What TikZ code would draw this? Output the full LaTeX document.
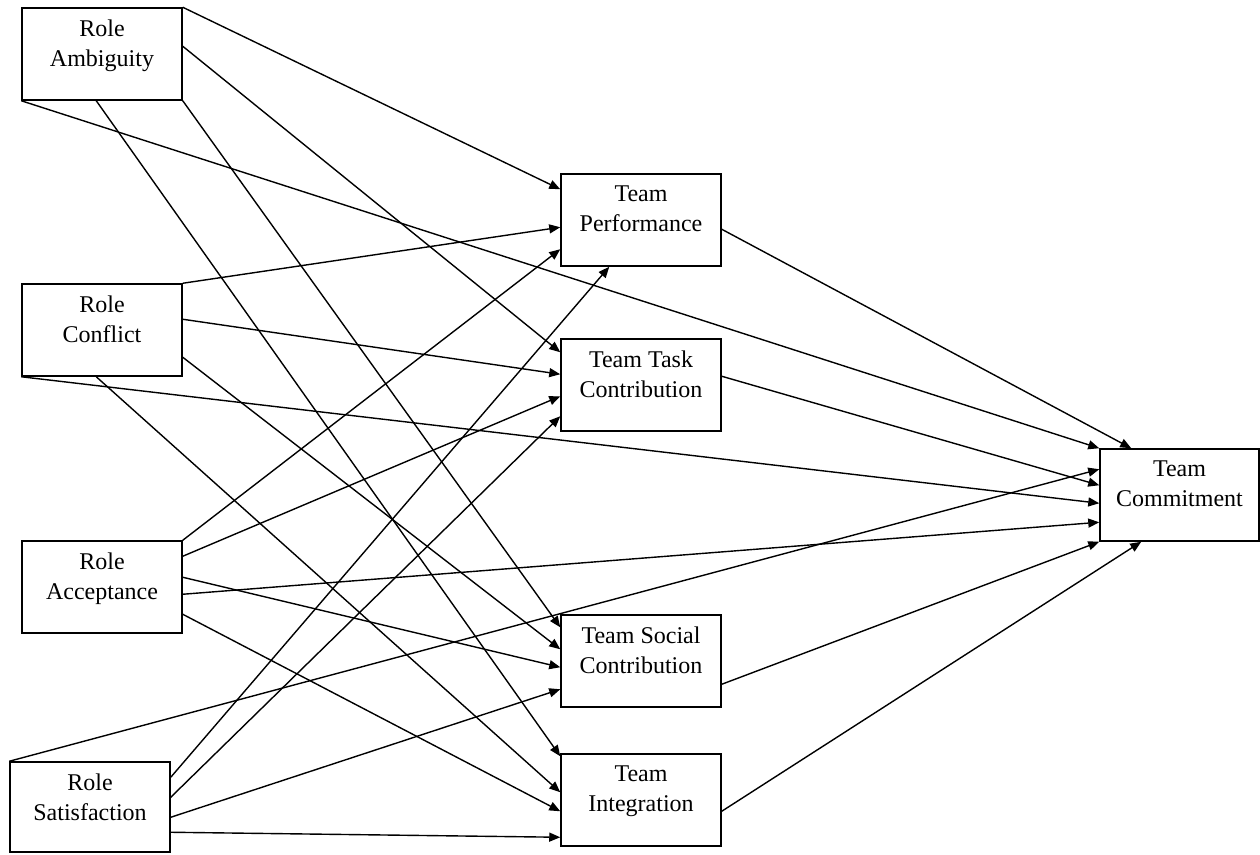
\documentclass[tikz,border=0pt]{standalone}
\usepackage{fontspec}
\setmainfont{Liberation Serif}
\usetikzlibrary{arrows.meta}
\begin{document}
\begin{tikzpicture}[x=1pt,y=-1pt,
  box/.style={draw,line width=1.5pt,rectangle,inner sep=0pt,minimum width=160pt,minimum height=92pt},
  lbl/.style={anchor=north,inner sep=0pt,align=center,font=\fontsize{24}{30}\selectfont},
  edge/.style={line width=1.4pt,-{Triangle[length=11pt,width=9pt]}}]
\useasboundingbox (0,0) rectangle (1260,854);
% boxes
\node[box] (ra)  at (102,54)  {};
\node[box] (rc)  at (102,330) {};
\node[box] (rac) at (102,587) {};
\node[box,minimum height=90pt] (rs) at (90,807) {};
\node[box] (tp)  at (641,220) {};
\node[box] (ttc) at (641,385) {};
\node[box] (tsc) at (641,661) {};
\node[box] (ti)  at (641,800) {};
\node[box,minimum width=159pt] (tc) at (1179.5,495) {};
% labels
\node[lbl] (lra)  at ([yshift=-12pt]ra.north)  {Role\\Ambiguity};
\node[lbl] (lrc)  at ([yshift=-12pt]rc.north)  {Role\\Conflict};
\node[lbl] (lrac) at ([yshift=-12pt]rac.north) {Role\\Acceptance};
\node[lbl] (lrs)  at ([yshift=-12pt]rs.north)  {Role\\Satisfaction};
\node[lbl] (ltp)  at ([yshift=-12pt]tp.north)  {Team\\Performance};
\node[lbl] (lttc) at ([yshift=-12pt]ttc.north) {Team Task\\Contribution};
\node[lbl] (ltsc) at ([yshift=-12pt]tsc.north) {Team Social\\Contribution};
\node[lbl] (lti)  at ([yshift=-12pt]ti.north)  {Team\\Integration};
\node[lbl] (ltc)  at ([yshift=-12pt]tc.north)  {Team\\Commitment};
% Role Ambiguity
\draw[edge] (ra.north east) -- ([yshift=-16pt]tp.north west);
\draw[edge] ([yshift=-39pt]ra.north east) -- ([yshift=-14pt]ttc.north west);
\draw[edge] (ra.south west) -- (tc.north west);
\draw[edge] ([xshift=75pt]ra.south west) -- ([yshift=-3pt]ti.north west);
\draw[edge] (ra.south east) -- ([yshift=-13pt]tsc.north west);
% Role Conflict
\draw[edge] (rc.north east) -- ([yshift=-54pt]tp.north west);
\draw[edge] ([yshift=-36pt]rc.north east) -- ([yshift=-36pt]ttc.north west);
\draw[edge] (rc.south west) -- ([yshift=-55pt]tc.north west);
\draw[edge] ([xshift=75pt]rc.south west) -- ([yshift=-39pt]ti.north west);
\draw[edge] ([yshift=-74pt]rc.north east) -- ([yshift=-35pt]tsc.north west);
% Role Acceptance
\draw[edge] (rac.north east) -- ([yshift=-76pt]tp.north west);
\draw[edge] ([yshift=-16pt]rac.north east) -- ([yshift=-58pt]ttc.north west);
\draw[edge] ([yshift=-37pt]rac.north east) -- ([yshift=-53pt]tsc.north west);
\draw[edge] ([yshift=-54pt]rac.north east) -- ([yshift=-74pt]tc.north west);
\draw[edge] ([yshift=-74pt]rac.north east) -- ([yshift=-58pt]ti.north west);
% Role Satisfaction
\draw[edge] (rs.north west) -- ([yshift=-21pt]tc.north west);
\draw[edge] ([yshift=-16pt]rs.north east) -- ([xshift=49pt]tp.south west);
\draw[edge] ([yshift=-36pt]rs.north east) -- ([yshift=-78pt]ttc.north west);
\draw[edge] ([yshift=-56pt]rs.north east) -- ([yshift=-75pt]tsc.north west);
\draw[edge] ([yshift=-71pt]rs.north east) -- ([yshift=-84pt]ti.north west);
% Team nodes to Team Commitment
\draw[edge] ([yshift=-56pt]tp.north east) -- ([xshift=32pt]tc.north west);
\draw[edge] ([yshift=-38pt]ttc.north east) -- ([yshift=-37pt]tc.north west);
\draw[edge] ([yshift=-70pt]tsc.north east) -- (tc.south west);
\draw[edge] ([yshift=-58pt]ti.north east) -- ([xshift=42pt]tc.south west);
\end{tikzpicture}
\end{document}
